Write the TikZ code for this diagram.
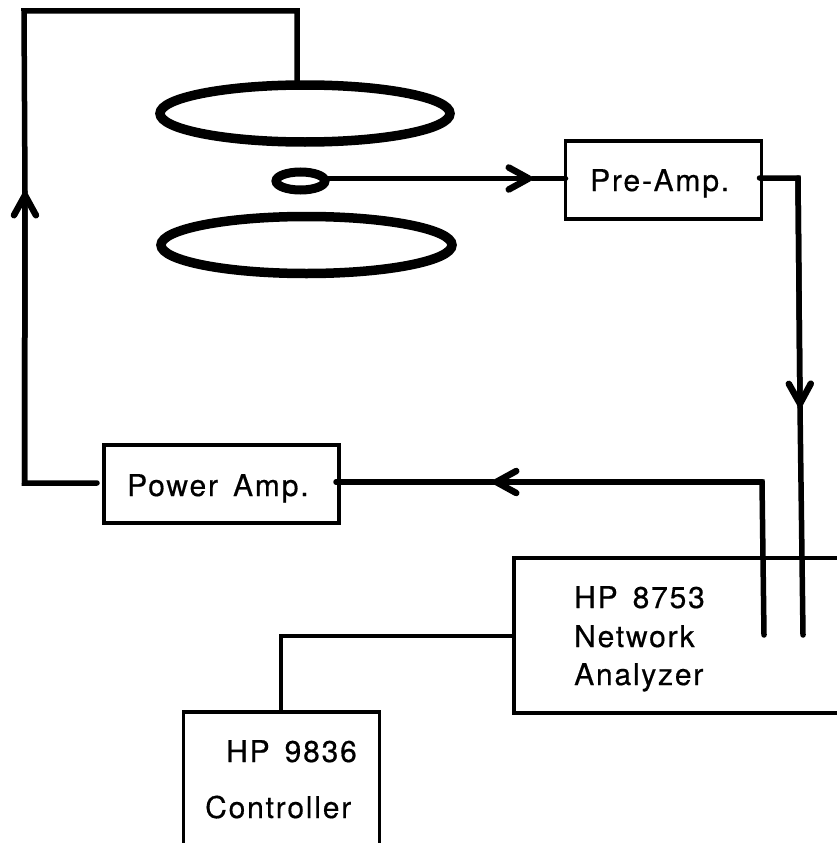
\documentclass[tikz,border=0pt]{standalone}
\usepackage{fontspec}
\setmainfont[LetterSpace=6,FakeBold=0.45]{TeX Gyre Heros}
\usetikzlibrary{arrows.meta,shapes.geometric}
\tikzset{
  x=1pt,y=-1pt,
  blockbox/.style={draw=black,line width=3.5pt,rectangle,inner sep=0pt,outer sep=0pt},
  coil/.style={draw=black,ellipse,inner sep=0pt},
  wire/.style={draw=black,line width=5.5pt,line cap=round,line join=miter},
  thinwire/.style={draw=black,line width=3.2pt},
  barbtip/.style={-{Straight Barb[length=20pt,width=22pt,line width=6.5pt,round]}},
  txt/.style={inner sep=0pt,anchor=base west,font=\fontsize{30}{30}\selectfont,text=black},
}
\begin{document}
\begin{tikzpicture}
\useasboundingbox (0,0) rectangle (837,843);
\fill[white] (0,0) rectangle (837,843);
\clip (0,0) rectangle (837,843);
% coils
\node[coil,line width=9.5pt,minimum width=290pt,minimum height=57pt] (topcoil) at (305,113.5) {};
\node[coil,line width=9.5pt,minimum width=291pt,minimum height=57pt] (botcoil) at (306.5,245) {};
\node[coil,line width=9pt,minimum width=49pt,minimum height=18pt] (pickup) at (300.5,181) {};
% boxes
\node[blockbox,minimum width=196pt,minimum height=78pt] (pre) at (663.5,180) {};
\node[blockbox,minimum width=235pt,minimum height=78pt] (pow) at (221.5,484) {};
\node[blockbox,minimum width=340pt,minimum height=155pt] (net) at (684,635.5) {};
\node[blockbox,minimum width=196pt,minimum height=150pt] (ctl) at (281.5,787) {};
% labels
\node[txt] (lpre) at (590,191) {Pre-Amp.};
\node[txt] (lpow) at (127,496) {Power\hspace{0.5em}Amp.};
\node[txt] (lnet1) at (574,608) {HP\hspace{0.5em}8753};
\node[txt] (lnet2) at (574,647) {Network};
\node[txt] (lnet3) at (574,685) {Analyzer};
\node[txt] (lctl1) at (226,762) {HP\hspace{0.5em}9836};
\node[txt] (lctl2) at (205,818) {Controller};
% route points
\coordinate (tc) at (297,84);
\coordinate (tr) at (297,11);
\coordinate (tl) at (24,11);
\coordinate (upTip) at (25,192);
\coordinate (pb) at (24.5,483);
\coordinate (rTip) at (532,178.5);
\coordinate (dn1) at (798,178);
\coordinate (dnTip) at (800,407);
\coordinate (dnEnd) at (803,635);
\coordinate (lTip) at (493,482);
\coordinate (rc) at (762,482);
\coordinate (rcEnd) at (764,635);
\coordinate (cj) at (281,636);
% connectors
\draw[wire] (tc) -- (tr) -- (tl) -- (upTip);
\draw[wire,barbtip] (pb) -- (upTip);
\draw[wire] ([xshift=-7pt]pow.west |- pb) -- (pb) -- (upTip);
\draw[wire,barbtip] ([xshift=-2pt]pickup.east |- rTip) -- (rTip);
\draw[wire] (rTip) -- (pre.west |- rTip);
\draw[wire] ([xshift=-2pt,yshift=2pt]pre.east) -- (dn1) -- (dnTip);
\draw[wire,barbtip] (dn1) -- (dnTip);
\draw[wire] (dnTip) -- (dnEnd);
\draw[wire] (lTip) -- (rc) -- (rcEnd);
\draw[wire,barbtip] (rc) -- (lTip);
\draw[wire] ([xshift=-3pt,yshift=2pt]pow.east) -- (lTip);
\draw[thinwire] (net.west |- cj) -- (cj) -- (ctl.north -| cj);
\end{tikzpicture}
\end{document}
